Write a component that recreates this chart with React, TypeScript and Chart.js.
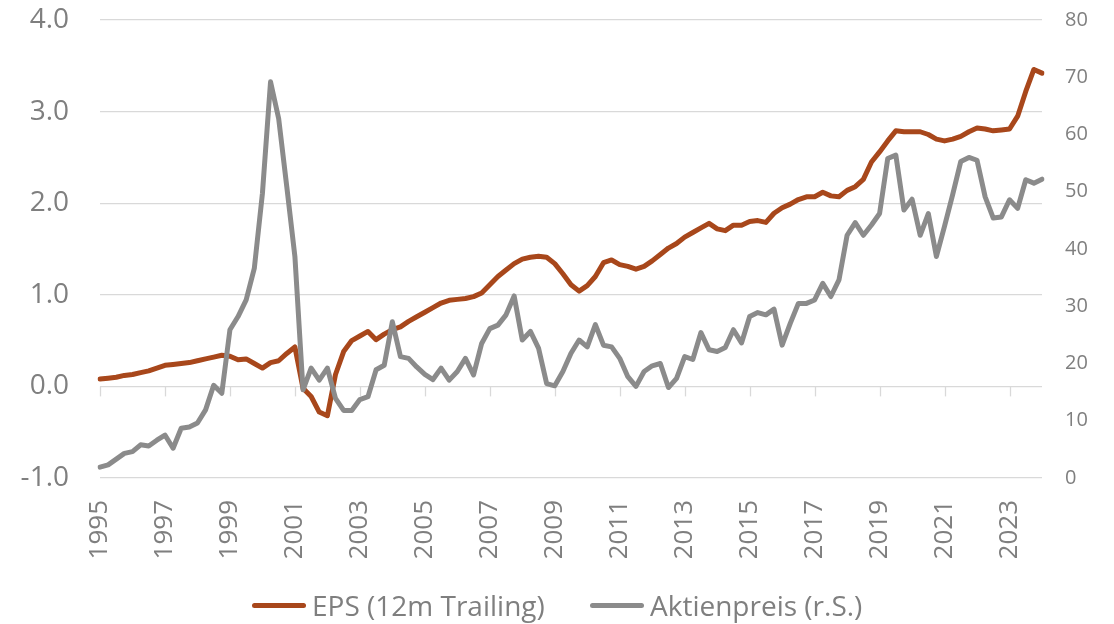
import React, { useEffect, useRef } from "react";
import { Chart, registerables } from "chart.js";

Chart.register(...registerables);

// Quarterly categories 1995 Q1 .. 2024 Q1
const years: number[] = [
  1995, 1996, 1997, 1998, 1999, 2000, 2001, 2002, 2003, 2004, 2005, 2006, 2007, 2008, 2009,
  2010, 2011, 2012, 2013, 2014, 2015, 2016, 2017, 2018, 2019, 2020, 2021, 2022, 2023, 2024,
];
const quarterNames: string[] = ["Q1", "Q2", "Q3", "Q4"];
const categories: string[] = [];
for (const y of years) {
  for (const q of quarterNames) {
    if (y === 2024 && q !== "Q1") continue;
    categories.push(`${y} ${q}`);
  }
}

// Axis tick labels shown on the category axis
const tickYears: string[] = [
  "1995", "1997", "1999", "2001", "2003", "2005", "2007", "2009",
  "2011", "2013", "2015", "2017", "2019", "2021", "2023",
];

const seriesNames: string[] = ["EPS (12m Trailing)", "Aktienpreis (r.S.)"];

// EPS (left axis)
const eps: number[] = [
  0.08, 0.09, 0.10, 0.12, 0.13, 0.15, 0.17, 0.20,
  0.23, 0.24, 0.25, 0.26, 0.28, 0.30, 0.32, 0.34,
  0.33, 0.29, 0.30, 0.25, 0.20, 0.26, 0.28, 0.36,
  0.43, -0.02, -0.11, -0.28, -0.32, 0.13, 0.38, 0.50,
  0.55, 0.60, 0.51, 0.57, 0.62, 0.65, 0.71, 0.76,
  0.81, 0.86, 0.91, 0.94, 0.95, 0.96, 0.98, 1.02,
  1.11, 1.20, 1.27, 1.34, 1.39, 1.41, 1.42, 1.41,
  1.34, 1.23, 1.11, 1.04, 1.10, 1.20, 1.35, 1.38,
  1.33, 1.31, 1.28, 1.31, 1.37, 1.44, 1.51, 1.56,
  1.63, 1.68, 1.73, 1.78, 1.72, 1.70, 1.76, 1.76,
  1.80, 1.81, 1.79, 1.89, 1.95, 1.99, 2.04, 2.07,
  2.07, 2.12, 2.08, 2.07, 2.14, 2.18, 2.26, 2.45,
  2.56, 2.68, 2.79, 2.78, 2.78, 2.78, 2.75, 2.70,
  2.68, 2.70, 2.73, 2.78, 2.82, 2.81, 2.79, 2.80,
  2.81, 2.95, 3.22, 3.46, 3.42,
];

// Share price (right axis)
const price: number[] = [
  1.9, 2.3, 3.3, 4.3, 4.6, 5.8, 5.6, 6.6,
  7.5, 5.2, 8.7, 8.9, 9.6, 11.9, 16.2, 14.8,
  25.9, 28.2, 31.1, 36.6, 49.7, 69.2, 62.8, 50.9,
  38.7, 15.4, 19.2, 17.1, 19.2, 13.9, 11.8, 11.8,
  13.7, 14.2, 18.9, 19.7, 27.3, 21.2, 20.9, 19.4,
  18.1, 17.2, 19.2, 17.1, 18.6, 20.9, 18.0, 23.5,
  26.1, 26.7, 28.5, 31.8, 24.1, 25.6, 22.7, 16.5,
  16.1, 18.6, 21.8, 24.1, 22.9, 26.8, 23.2, 22.9,
  20.9, 17.7, 16.0, 18.6, 19.6, 20.0, 15.8, 17.4,
  21.2, 20.7, 25.4, 22.4, 22.1, 22.8, 25.9, 23.6,
  28.2, 28.9, 28.5, 29.5, 23.2, 27.0, 30.5, 30.5,
  31.1, 34.0, 31.7, 34.6, 42.4, 44.6, 42.4, 44.2,
  46.2, 55.8, 56.4, 46.8, 48.7, 42.4, 46.2, 38.7,
  44.0, 49.5, 55.3, 56.0, 55.5, 49.1, 45.4, 45.6,
  48.6, 47.1, 52.1, 51.5, 52.2,
];

const ORANGE = "#A8471B";
const GRAY = "#8B8B8B";
const TEXT = "#7F7F7F";
const GRID = "#D9D9D9";
const FONT = "'Open Sans', 'DejaVu Sans', sans-serif";

function tickLabelFor(index: number): string | null {
  const c = categories[index];
  if (!c) return null;
  const [y, q] = c.split(" ");
  if (q === "Q1" && tickYears.includes(y)) return y;
  return null;
}

const zeroTicksPlugin = {
  id: "zeroTicks",
  beforeDatasetsDraw(chart: any) {
    const x = chart.scales.x;
    const y = chart.scales.y;
    const ctx = chart.ctx;
    const y0 = y.getPixelForValue(0);
    ctx.save();
    ctx.strokeStyle = GRID;
    ctx.lineWidth = 1.3;
    for (let i = 0; i < categories.length; i++) {
      if (tickLabelFor(i) === null) continue;
      const px = Math.round(x.getPixelForValue(i)) + 0.5;
      ctx.beginPath();
      ctx.moveTo(px, y0);
      ctx.lineTo(px, y0 + 10);
      ctx.stroke();
    }
    ctx.restore();
  },
};

export default function App() {
  const canvasRef = useRef<HTMLCanvasElement | null>(null);

  useEffect(() => {
    document.body.style.margin = "0";
    const canvas = canvasRef.current;
    if (!canvas) return;
    const chart = new Chart(canvas, {
      type: "line",
      data: {
        labels: categories,
        datasets: [
          {
            label: seriesNames[0],
            data: eps,
            yAxisID: "y",
            borderColor: ORANGE,
            backgroundColor: ORANGE,
            borderWidth: 5,
            pointRadius: 0,
            tension: 0,
            borderJoinStyle: "round",
            borderCapStyle: "round",
            order: 1,
          },
          {
            label: seriesNames[1],
            data: price,
            yAxisID: "y1",
            borderColor: GRAY,
            backgroundColor: GRAY,
            borderWidth: 5,
            pointRadius: 0,
            tension: 0,
            borderJoinStyle: "round",
            borderCapStyle: "round",
            order: 0,
          },
        ],
      },
      options: {
        responsive: false,
        animation: false,
        devicePixelRatio: 1,
        layout: { padding: { top: 20, bottom: 66, left: 0, right: 0 } },
        plugins: {
          legend: { display: false },
          tooltip: { enabled: false },
        },
        scales: {
          x: {
            type: "category",
            offset: false,
            grid: { display: false, drawTicks: false },
            border: { display: false },
            ticks: {
              autoSkip: false,
              minRotation: 90,
              maxRotation: 90,
              padding: 22,
              color: TEXT,
              font: { family: FONT, size: 26 },
              callback: (_v: any, index: number) => tickLabelFor(index),
            },
            afterFit: (scale: any) => {
              scale.height = 80;
              scale.paddingLeft = 0;
              scale.paddingRight = 0;
            },
          },
          y: {
            position: "left",
            min: -1,
            max: 4,
            grid: { color: GRID, lineWidth: 1.3, drawTicks: false },
            border: { display: false },
            ticks: {
              stepSize: 1,
              padding: 31,
              color: TEXT,
              font: { family: FONT, size: 28 },
              callback: (v: any) => Number(v).toFixed(1),
            },
            afterFit: (scale: any) => {
              scale.width = 100;
              scale.paddingTop = 0;
              scale.paddingBottom = 0;
            },
          },
          y1: {
            position: "right",
            min: 0,
            max: 80,
            grid: { display: false, drawTicks: false },
            border: { display: false },
            ticks: {
              stepSize: 10,
              padding: 23,
              color: TEXT,
              font: { family: FONT, size: 20 },
            },
            afterFit: (scale: any) => {
              scale.width = 72;
              scale.paddingTop = 0;
              scale.paddingBottom = 0;
            },
          },
        },
      },
      plugins: [zeroTicksPlugin],
    } as any);
    return () => chart.destroy();
  }, []);

  const legendText: React.CSSProperties = {
    fontFamily: FONT,
    fontSize: 28,
    color: TEXT,
    lineHeight: "40px",
    whiteSpace: "nowrap",
  };
  const marker = (color: string): React.CSSProperties => ({
    width: 54,
    height: 5,
    borderRadius: 3,
    background: color,
    marginRight: 6,
  });

  return (
    <div style={{ position: "fixed", left: 0, top: 0, width: 1114, height: 624, background: "#fff" }}>
      <canvas ref={canvasRef} width={1114} height={624} style={{ width: 1114, height: 624, display: "block" }} />
      <div style={{ position: "absolute", left: 252, top: 585, height: 40, display: "flex", alignItems: "center" }}>
        <div style={marker(ORANGE)} />
        <span style={legendText}>{seriesNames[0]}</span>
      </div>
      <div style={{ position: "absolute", left: 590, top: 585, height: 40, display: "flex", alignItems: "center" }}>
        <div style={marker(GRAY)} />
        <span style={legendText}>{seriesNames[1]}</span>
      </div>
    </div>
  );
}
